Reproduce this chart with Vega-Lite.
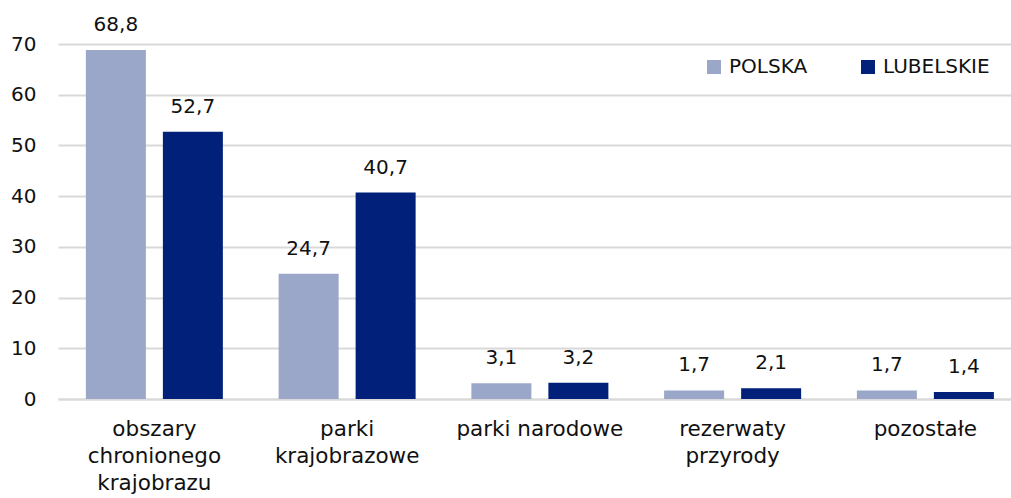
{
  "$schema": "https://vega.github.io/schema/vega-lite/v6.json",
  "width": 950,
  "height": 355,
  "autosize": {"type": "none"},
  "padding": {"left": 58, "top": 44, "right": 3, "bottom": 99},
  "background": "white",
  "config": {
    "locale": {"number": {"decimal": ",", "thousands": " ", "grouping": [3], "currency": ["", " zł"]}},
    "font": "DejaVu Sans",
    "view": {"stroke": null}
  },
  "data": {
    "values": [
      {"kategoria": "obszary chronionego krajobrazu", "seria": "POLSKA", "wartosc": 68.8},
      {"kategoria": "obszary chronionego krajobrazu", "seria": "LUBELSKIE", "wartosc": 52.7},
      {"kategoria": "parki krajobrazowe", "seria": "POLSKA", "wartosc": 24.7},
      {"kategoria": "parki krajobrazowe", "seria": "LUBELSKIE", "wartosc": 40.7},
      {"kategoria": "parki narodowe", "seria": "POLSKA", "wartosc": 3.1},
      {"kategoria": "parki narodowe", "seria": "LUBELSKIE", "wartosc": 3.2},
      {"kategoria": "rezerwaty przyrody", "seria": "POLSKA", "wartosc": 1.7},
      {"kategoria": "rezerwaty przyrody", "seria": "LUBELSKIE", "wartosc": 2.1},
      {"kategoria": "pozostałe", "seria": "POLSKA", "wartosc": 1.7},
      {"kategoria": "pozostałe", "seria": "LUBELSKIE", "wartosc": 1.4}
    ]
  },
  "encoding": {
    "x": {
      "field": "kategoria", "type": "nominal", "sort": null, "title": null,
      "scale": {"paddingInner": 0, "paddingOuter": 0, "range": [0, 963.75]},
      "axis": {
        "labelAngle": 0, "labelFontSize": 21.5, "labelColor": "#111111",
        "labelExpr": "datum.value == 'parki narodowe' ? datum.value : split(datum.value, ' ')",
        "labelLineHeight": 27, "labelPadding": 19, "labelBaseline": "top",
        "ticks": false, "domainColor": "#d9d9d9", "domainWidth": 2, "grid": false
      }
    },
    "xOffset": {
      "field": "seria", "type": "nominal", "sort": ["POLSKA", "LUBELSKIE"],
      "scale": {"paddingInner": 0.2208, "paddingOuter": 0.362}
    },
    "y": {
      "field": "wartosc", "type": "quantitative", "title": null,
      "scale": {"domain": [0, 70]},
      "axis": {
        "values": [0, 10, 20, 30, 40, 50, 60, 70],
        "labelFontSize": 20, "labelColor": "#111111", "labelPadding": 22,
        "ticks": false, "domain": false, "gridColor": "#d9d9d9", "gridWidth": 2
      }
    }
  },
  "layer": [
    {
      "mark": {"type": "bar"},
      "encoding": {
        "color": {
          "field": "seria", "type": "nominal", "sort": ["POLSKA", "LUBELSKIE"],
          "scale": {"domain": ["POLSKA", "LUBELSKIE"], "range": ["#9aa7c8", "#00207a"]},
          "legend": {
            "title": null, "orient": "none", "legendX": 646, "legendY": 13,
            "direction": "horizontal", "symbolType": "square", "symbolSize": 196,
            "symbolStrokeWidth": 0, "labelFontSize": 20, "labelColor": "#111111",
            "columnPadding": 50, "labelOffset": 5
          }
        }
      }
    },
    {
      "mark": {"type": "text", "baseline": "alphabetic", "dy": -19, "fontSize": 20, "color": "#111111"},
      "encoding": {
        "text": {"field": "wartosc", "type": "quantitative", "format": ".1f"}
      }
    }
  ]
}
